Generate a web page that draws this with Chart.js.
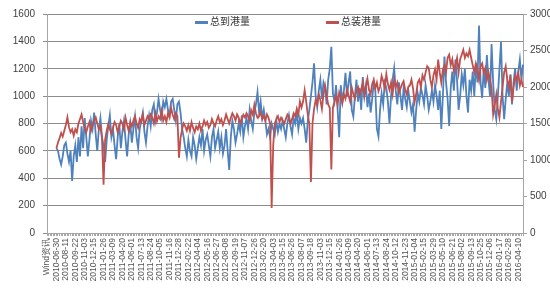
<!DOCTYPE html>
<html>
<head>
<meta charset="utf-8">
<script src="https://cdn.jsdelivr.net/npm/chart.js@4.4.1/dist/chart.umd.min.js"></script>
<style>
  body { margin: 0; background: #fff; }
  #wrap { position: relative; width: 550px; height: 300px; }
  .lg { position: absolute; top: 13px; font: 10px "Noto Sans CJK SC", sans-serif; color: #333; }
  .lg i { display: inline-block; width: 13px; height: 3px; vertical-align: middle; margin-right: 2px; }
</style>
</head>
<body>
<div id="wrap">
  <canvas id="portChart"></canvas>
  <div class="lg" style="left:195px"><i style="background:#4F81BD"></i>总到港量</div>
  <div class="lg" style="left:326px"><i style="background:#C0504D"></i>总装港量</div>
</div>
<script>
// tick labels, one every 6 weeks (first one is the source note)
const tickLabels = ['Wind资讯',
  '2010-06-30', '2010-08-11', '2010-09-22', '2010-11-03', '2010-12-15', '2011-01-26', '2011-03-09',
  '2011-04-20', '2011-06-01', '2011-07-13', '2011-08-24', '2011-10-05', '2011-11-16', '2011-12-28',
  '2012-02-22', '2012-04-04', '2012-05-16', '2012-06-27', '2012-08-08', '2012-09-19', '2012-11-07',
  '2012-12-26', '2013-02-20', '2013-04-03', '2013-05-15', '2013-06-26', '2013-08-07', '2013-09-18',
  '2013-11-03', '2013-12-15', '2014-01-26', '2014-03-09', '2014-04-20', '2014-06-01', '2014-07-13',
  '2014-08-24', '2014-10-12', '2014-11-23', '2015-01-04', '2015-02-15', '2015-03-29', '2015-05-10',
  '2015-06-21', '2015-08-02', '2015-09-13', '2015-10-25', '2015-12-06', '2016-01-17', '2016-02-28',
  '2016-04-10'];
const labelEvery = 6;
const leadGap = 6; // empty weeks before the first date (where the source note sits)

// 总到港量 (left axis), weekly
const arrivals = [
  620, 600, 540, 500, 560, 640, 660, 580, 520, 600, 380, 560,
  640, 520, 700, 560, 780, 620, 840, 700, 560, 680, 820, 760,
  880, 720, 600, 760, 840, 700, 640, 520, 680, 780, 860, 700,
  760, 640, 540, 700, 800, 620, 740, 820, 680, 560, 720, 800,
  660, 760, 850, 700, 620, 760, 820, 880, 740, 660, 780, 860,
  780, 900, 940, 820, 880, 980, 900, 840, 960, 920, 980, 900,
  860, 960, 980, 900, 820, 940, 960, 880, 760, 700, 620, 560,
  680, 600, 560, 700, 640, 540, 620, 700, 640, 760, 600, 680,
  720, 640, 560, 700, 760, 620, 680, 740, 620, 700, 580, 640,
  760, 600, 460, 700, 820, 760, 660, 720, 800, 740, 860, 700,
  780, 840, 760, 900, 820, 760, 880, 940, 1030, 880, 960, 840,
  900, 820, 720, 760, 700, 800, 760, 720, 820, 740, 800, 760,
  820, 760, 700, 800, 860, 780, 720, 840, 800, 880, 760, 840,
  800, 840, 760, 660, 820, 900, 1000, 1100, 1240, 1000, 920, 1040,
  1120, 980, 1100, 1060, 940, 1120, 1200, 1360, 1020, 960, 1080, 900,
  700, 1080, 960, 1040, 1170, 1000, 1100, 1180, 900, 850, 1000, 1120,
  960, 1060, 900, 1140, 1000, 1080, 920, 1020, 880, 980, 1100, 1040,
  760, 705, 900, 1020, 940, 1100, 1060, 960, 800, 1000, 1120, 1205,
  1040, 940, 1100, 1000, 900, 1060, 980, 920, 1040, 960, 880, 940,
  740, 900, 1020, 960, 1060, 1008, 940, 1080, 1000, 900, 960, 1040,
  960, 1080, 1000, 900, 1040, 761, 1000, 1290, 1100, 980, 782, 1060,
  1180, 1040, 1268, 1120, 900, 1000, 1160, 1080, 1200, 1000, 880, 1120,
  1040, 1180, 1000, 1240, 1100, 1515, 1100, 986, 1200, 1060, 1300, 1120,
  1000, 1381, 1100, 900, 830, 1000, 1200, 1395, 1000, 832, 980, 1100,
  1000, 1160, 940, 1100, 1205, 1040, 1180, 1268, 1120, 1230
];

// 总装港量 (right axis), weekly
const loadings = [
  1160, 1240, 1300, 1370, 1320, 1400, 1480, 1585, 1450, 1380, 1420, 1333,
  1420, 1380, 1500, 1560, 1624, 1520, 1440, 1380, 1460, 1520, 1400, 1480,
  1540, 1585, 1500, 1420, 1460, 1300, 660, 1280, 1400, 1490, 1420, 1360,
  1440, 1520, 1480, 1380, 1460, 1540, 1500, 1420, 1580, 1480, 1400, 1520,
  1460, 1540, 1600, 1500, 1440, 1560, 1520, 1620, 1480, 1540, 1600, 1560,
  1624, 1580, 1500, 1640, 1530, 1600, 1560, 1680, 1540, 1600, 1520, 1640,
  1580, 1716, 1620, 1560, 1640, 1600, 1030, 1300, 1420, 1500, 1460, 1400,
  1480, 1400, 1520, 1440, 1380, 1460, 1420, 1500, 1400, 1460, 1540, 1480,
  1520, 1440, 1480, 1560, 1500, 1460, 1540, 1600, 1518, 1560, 1480, 1540,
  1624, 1560, 1500, 1580, 1640, 1600, 1540, 1624, 1580, 1500, 1560, 1620,
  1580, 1640, 1600, 1540, 1680, 1620, 1756, 1640, 1580, 1600, 1660, 1560,
  1600, 1540, 1624, 1580, 1500, 343, 1200, 1500, 1558, 1600, 1520, 1580,
  1540, 1500, 1560, 1620, 1580, 1500, 1560, 1640, 1600, 1700, 1620, 1800,
  1720, 1800, 1954, 1800, 1620, 1492, 700, 1500, 1700, 1820, 1760, 1900,
  1820, 1700, 1900, 2020, 1880, 1760, 1716, 870, 1716, 1800, 1880, 1760,
  1927, 1860, 1780, 1900, 1840, 1960, 1880, 1800, 1993, 1900, 1840, 1960,
  2000, 1900, 1960, 2060, 1880, 2000, 2112, 1960, 1900, 2040, 2100, 1980,
  2060, 1940, 2000, 2152, 2080, 1980, 2178, 2040, 1960, 2060, 1900, 2100,
  2000, 2060, 1920, 1980, 2040, 2080, 1960, 1900, 2000, 2020, 2100, 1980,
  1795, 1900, 2060, 2100, 2000, 2160, 2100, 2200, 2284, 2257, 2100, 2000,
  2160, 2240, 2100, 2376, 2200, 2060, 2240, 2300, 2200, 2400, 2442, 2300,
  2380, 2218, 2300, 2400, 2200, 2380, 2440, 2508, 2400, 2460, 2420, 2508,
  2400, 2300, 2200, 2323, 2244, 2100, 2280, 2323, 2200, 2260, 2100, 2200,
  2100, 1980, 1624, 1756, 1900, 1700, 1584, 1800, 2000, 2200, 2284, 2100,
  2000, 2160, 1795, 2000, 2152, 2100, 2200, 2020, 2100, 2000
];

const nCats = leadGap + arrivals.length;
const cats = [];
for (let k = 0; k < nCats; k++) cats.push(k);
const pad = new Array(leadGap).fill(null);

const tickFont = { family: 'Liberation Sans, Arial, sans-serif', size: 10 };
const dateFont = { family: 'Liberation Sans, Arial, sans-serif', size: 8.5 };

new Chart(document.getElementById('portChart'), {
    type: 'line',
    data: {
        labels: cats,
        datasets: [{
            label: '总到港量',
            data: pad.concat(arrivals),
            borderColor: '#4F81BD',
            borderWidth: 1.8,
            pointRadius: 0,
            tension: 0,
            yAxisID: 'y',
            order: 1
        }, {
            label: '总装港量',
            data: pad.concat(loadings),
            borderColor: '#C0504D',
            borderWidth: 1.8,
            pointRadius: 0,
            tension: 0,
            yAxisID: 'y1',
            order: 0
        }]
    },
    options: {
        responsive: true,
        maintainAspectRatio: false,
        animation: false,
        layout: { padding: { top: 6 } },
        plugins: { legend: { display: false }, tooltip: { enabled: false } },
        scales: {
            x: {
                offset: false,
                grid: { drawOnChartArea: false, tickLength: 3, color: '#a6a6a6' },
                border: { color: '#a6a6a6' },
                ticks: {
                    autoSkip: false,
                    minRotation: 90,
                    maxRotation: 90,
                    padding: 2,
                    color: '#555',
                    font: dateFont,
                    callback: (v, k) => (k % labelEvery === 0 && tickLabels[k / labelEvery]) ? tickLabels[k / labelEvery] : ''
                },
                afterFit: s => { s.height = 67; }
            },
            y: {
                position: 'left',
                min: 0, max: 1600,
                ticks: { stepSize: 200, color: '#404040', font: tickFont, padding: 8, callback: v => v },
                grid: { color: '#8c8c8c', tickLength: 4 },
                border: { color: '#a6a6a6' },
                afterFit: s => { s.width = 47; }
            },
            y1: {
                position: 'right',
                min: 0, max: 3000,
                ticks: { stepSize: 500, color: '#404040', font: tickFont, padding: 3, callback: v => v },
                grid: { drawOnChartArea: false, tickLength: 4, color: '#a6a6a6' },
                border: { color: '#a6a6a6' },
                afterFit: s => { s.width = 27; }
            }
        }
    }
});
</script>
</body>
</html>
